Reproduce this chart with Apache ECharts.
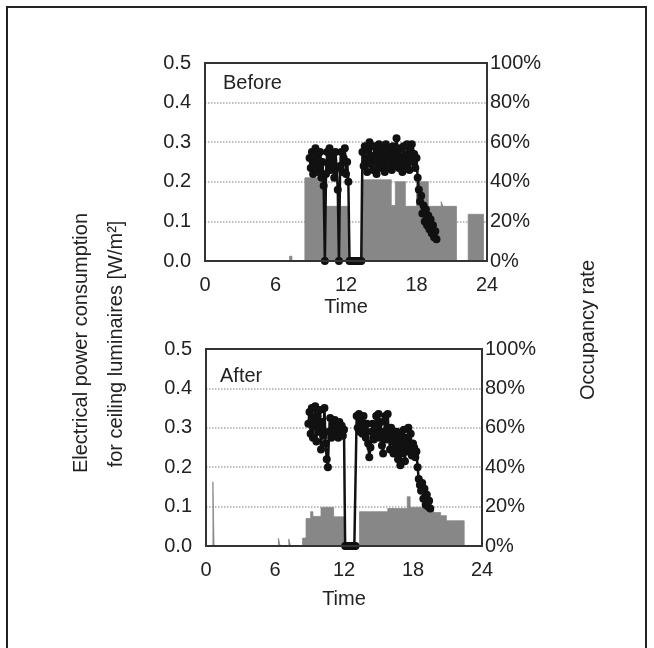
<!DOCTYPE html>
<html>
<head>
<meta charset="utf-8">
<script src="https://cdn.jsdelivr.net/npm/echarts@6/dist/echarts.min.js"></script>
<style>
  html, body { margin: 0; padding: 0; background: #fff; }
  #chart { width: 654px; height: 648px; }
</style>
</head>
<body>
<div id="chart"></div>
<script>
// ---- data ----
const hourTicks = [0, 6, 12, 18, 24];
const powerTicks = [0, 0.1, 0.2, 0.3, 0.4, 0.5];
const occupancyTicks = [0, 20, 40, 60, 80, 100];

// Ceiling luminaire power [W/m2], step values: each value holds from its time until the next time
const beforePowerTime  = [0, 7.2, 7.4, 8.5, 9.6, 10.15, 12.3, 13.3, 15.85, 16.2, 17.05, 18.0, 19.0, 20.1, 20.25, 21.4, 22.4, 23.7, 24];
const beforePowerValue = [0, 0.012, 0, 0.21, 0.2, 0.138, 0, 0.205, 0.14, 0.2, 0.138, 0.2, 0.138, 0.15, 0.138, 0, 0.118, 0, 0];

const afterPowerTime  = [0, 0.6, 0.7, 6.3, 6.45, 7.2, 7.35, 8.4, 8.7, 9.1, 9.3, 10.0, 11.1, 12.05, 13.35, 15.8, 17.5, 17.75, 19.0, 19.8, 20.4, 20.9, 22.45, 24];
const afterPowerValue = [0, 0.163, 0, 0.02, 0, 0.018, 0, 0.02, 0.07, 0.087, 0.075, 0.098, 0.074, 0, 0.087, 0.095, 0.125, 0.098, 0.092, 0.085, 0.077, 0.064, 0, 0];

// Occupancy rate [%], sampled every 6 minutes
const occupancyStep = 0.1;
const beforeOccStart = 8.9;
const beforeOccupancy = [
  52,
  47, 55, 44, 50, 57, 45, 52, 48, 55, 42,   // 9h
  50, 38, 0, 44, 55, 49, 57, 46, 53, 50,    // 10h
  42, 55, 47, 36, 0, 48, 55, 45, 52, 57,    // 11h
  44, 50, 40, 0, 0, 0, 0, 0, 0, 0,          // 12h
  0, 0, 0, 0, 55, 48, 58, 51, 45, 56,       // 13h
  60, 49, 53, 46, 58, 52, 44, 55, 59, 50,   // 14h
  47, 57, 53, 45, 59, 51, 48, 56, 54, 46,   // 15h
  58, 52, 49, 62, 55, 47, 57, 50, 45, 58,   // 16h
  53, 48, 59, 51, 46, 56, 59, 50, 54, 47,   // 17h
  52, 42, 36, 30, 33, 24, 28, 20, 26, 18,   // 18h
  23, 16, 21, 14, 18, 12, 15, 11            // 19h
];
const afterOccStart = 8.9;
const afterOccupancy = [
  62,
  68, 57, 70, 55, 64, 71, 53, 66, 58, 69,   // 9h
  49, 63, 56, 70, 52, 44, 40, 58, 65, 55,   // 10h
  62, 57, 64, 56, 60, 55, 63, 57, 61, 56,   // 11h
  59, 0, 0, 0, 0, 0, 0, 0, 0, 0,            // 12h
  0, 66, 60, 67, 58, 64, 57, 66, 60, 55,    // 13h
  62, 52, 45, 50, 58, 62, 54, 60, 66, 57,   // 14h
  67, 55, 63, 51, 47, 58, 66, 54, 67, 56,   // 15h
  49, 60, 55, 47, 57, 50, 58, 44, 53, 41,   // 16h
  56, 47, 59, 43, 55, 48, 60, 50, 57, 46,   // 17h
  52, 50, 45, 48, 40, 34, 31, 28, 32, 24,   // 18h
  29, 21, 26, 20, 23, 19                    // 19h
];

// ---- layout ----
const FONT = 'Liberation Sans, Arial, sans-serif';
const TEXT = '#222';
const GRAY = '#878787';
const panels = [
  { left: 205, top: 63, width: 282, height: 198, label: 'Before', labelX: 223, labelY: 73, nameGap: 36 },
  { left: 206, top: 349, width: 276, height: 197, label: 'After', labelX: 220, labelY: 366, nameGap: 43 }
];

function pairs(times, values) {
  return times.map((t, i) => [t, values[i]]);
}
function sampled(start, values) {
  return values.map((v, i) => [+(start + i * occupancyStep).toFixed(2), v]);
}

const powerData = [pairs(beforePowerTime, beforePowerValue), pairs(afterPowerTime, afterPowerValue)];
const occData = [sampled(beforeOccStart, beforeOccupancy), sampled(afterOccStart, afterOccupancy)];

const grid = [], xAxis = [], yAxis = [], series = [], graphic = [];

panels.forEach((p, k) => {
  grid.push({ left: p.left, top: p.top, width: p.width, height: p.height, containLabel: false });
  xAxis.push({
    type: 'value', gridIndex: k, min: hourTicks[0], max: hourTicks[hourTicks.length - 1],
    interval: hourTicks[1] - hourTicks[0],
    name: 'Time', nameLocation: 'middle', nameGap: p.nameGap,
    nameTextStyle: { fontFamily: FONT, fontSize: 20, color: TEXT },
    axisLine: { show: false }, axisTick: { show: false }, splitLine: { show: false },
    axisLabel: { fontFamily: FONT, fontSize: 20, color: TEXT, margin: 14 }
  });
  yAxis.push({
    type: 'value', gridIndex: k, position: 'left',
    min: powerTicks[0], max: powerTicks[powerTicks.length - 1], interval: powerTicks[1] - powerTicks[0],
    axisLine: { show: false }, axisTick: { show: false },
    splitLine: { show: true, lineStyle: { type: 'dotted', color: '#a8a8a8', width: 1.5 } },
    axisLabel: { fontFamily: FONT, fontSize: 20, color: TEXT, margin: 14, formatter: v => v.toFixed(1) }
  });
  yAxis.push({
    type: 'value', gridIndex: k, position: 'right',
    min: occupancyTicks[0], max: occupancyTicks[occupancyTicks.length - 1], interval: occupancyTicks[1] - occupancyTicks[0],
    axisLine: { show: false }, axisTick: { show: false }, splitLine: { show: false },
    axisLabel: { fontFamily: FONT, fontSize: 20, color: TEXT, margin: 3, formatter: '{value}%' }
  });
  series.push({
    type: 'line', xAxisIndex: k, yAxisIndex: 2 * k, step: 'end',
    data: powerData[k], showSymbol: false, symbol: 'none',
    lineStyle: { width: 0.8, color: GRAY }, areaStyle: { color: GRAY, opacity: 1 },
    z: 2, silent: true
  });
  series.push({
    type: 'line', xAxisIndex: k, yAxisIndex: 2 * k + 1,
    data: occData[k], symbol: 'circle', symbolSize: 8,
    itemStyle: { color: '#111' }, lineStyle: { color: '#111', width: 2.5 },
    z: 3, silent: true
  });
  // plot frame drawn on top of the marks
  graphic.push({
    type: 'rect', z: 100, silent: true,
    shape: { x: p.left, y: p.top, width: p.width, height: p.height },
    style: { fill: 'none', stroke: '#333', lineWidth: 2 }
  });
  graphic.push({
    type: 'text', z: 101, x: p.labelX, y: p.labelY, silent: true,
    style: { text: p.label, font: '20px ' + FONT, fill: TEXT, textAlign: 'left', textVerticalAlign: 'top' }
  });
});

// axis titles
graphic.push({
  type: 'text', x: 81, y: 343, rotation: Math.PI / 2, silent: true,
  style: { text: 'Electrical power consumption', font: '20px ' + FONT, fill: TEXT, textAlign: 'center', textVerticalAlign: 'middle' }
});
graphic.push({
  type: 'text', x: 116, y: 344, rotation: Math.PI / 2, silent: true,
  style: { text: 'for ceiling luminaires [W/m\u00B2]', font: '20px ' + FONT, fill: TEXT, textAlign: 'center', textVerticalAlign: 'middle' }
});
graphic.push({
  type: 'text', x: 588, y: 330, rotation: Math.PI / 2, silent: true,
  style: { text: 'Occupancy rate', font: '20px ' + FONT, fill: TEXT, textAlign: 'center', textVerticalAlign: 'middle' }
});
// outer border
graphic.push({
  type: 'rect', silent: true, z: 100,
  shape: { x: 7, y: 7, width: 639, height: 680 },
  style: { fill: 'none', stroke: '#222', lineWidth: 2 }
});

const chart = echarts.init(document.getElementById('chart'), null, { renderer: 'canvas' });
chart.setOption({
  animation: false,
  backgroundColor: '#fff',
  grid, xAxis, yAxis, series, graphic
});
</script>
</body>
</html>
